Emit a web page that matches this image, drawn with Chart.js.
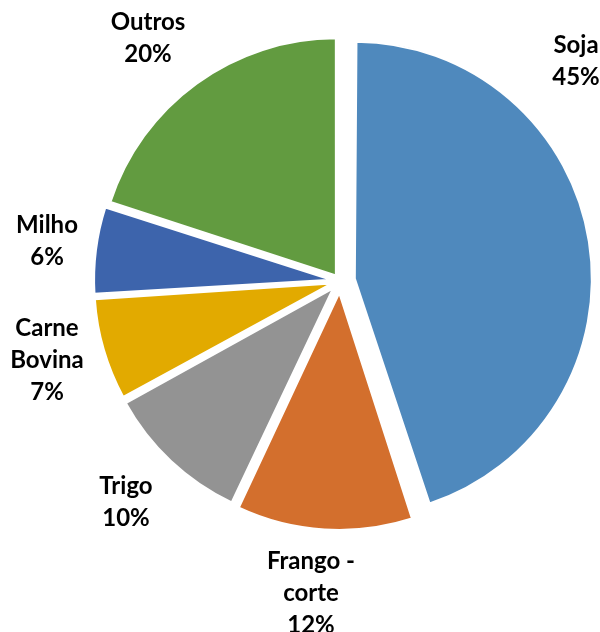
<!DOCTYPE html>
<html lang="pt">
<head>
    <meta charset="UTF-8">
    <title>Participação</title>
    <style>
        html, body { margin: 0; padding: 0; background: #fff; }
        #wrap { width: 600px; height: 632px; position: relative; }
    </style>
    <script src="https://cdn.jsdelivr.net/npm/chart.js"></script>
</head>
<body>
<div id="wrap">
    <canvas id="pieChart" width="600" height="632"></canvas>
</div>

<script>
    // dados do gráfico
    const categorias = ['Soja', ['Frango -', 'corte'], 'Trigo', ['Carne', 'Bovina'], 'Milho', 'Outros'];
    const valores = [45, 12, 10, 7, 6, 20];

    const cores = ['#4F89BD', '#D36F2D', '#939393', '#E2AA00', '#3D64AC', '#629B40'];
    // deslocamento de cada fatia (px)
    const explosao = [15, 12, 10, 9, 9, 7];
    // posição dos rótulos em relação ao centro da pizza
    const posRotulos = [[236, -220], [-29, 312], [-214, 221], [-293, 79], [-293, -40], [-192, -243]];

    const rotulosPlugin = {
        id: 'rotulos',
        afterDatasetsUpdate(chart) {
            // o Chart.js aumenta o raio das fatias deslocadas; compensa aqui
            const meta = chart.getDatasetMeta(0);
            meta.data.forEach((arc, i) => {
                const d = explosao[i];
                const circ = arc.endAngle - arc.startAngle;
                const fix = 1 - Math.sin(Math.min(Math.PI, circ));
                arc.outerRadius = arc.outerRadius - d * fix;
            });
        },
        afterDatasetsDraw(chart) {
            const ctx = chart.ctx;
            const meta = chart.getDatasetMeta(0);
            const total = valores.reduce((a, b) => a + b, 0);
            ctx.save();
            ctx.fillStyle = '#000';
            ctx.font = 'bold 24px Lato';
            ctx.textAlign = 'center';
            ctx.textBaseline = 'middle';
            meta.data.forEach((arc, i) => {
                const linhas = [].concat(categorias[i]);
                linhas.push(Math.round(valores[i] / total * 100) + '%');
                const cx = arc.x + posRotulos[i][0];
                const cy = arc.y + posRotulos[i][1];
                const lh = 32;
                const y0 = cy - (linhas.length - 1) * lh / 2;
                linhas.forEach((t, k) => ctx.fillText(t, cx, y0 + k * lh));
            });
            ctx.restore();
        }
    };

    new Chart(document.getElementById('pieChart'), {
        type: 'pie',
        data: {
            labels: categorias,
            datasets: [{
                data: valores,
                backgroundColor: cores,
                borderColor: '#ffffff',
                borderWidth: 2,
                offset: explosao.map(d => d * 4),
                hoverOffset: 0
            }]
        },
        options: {
            responsive: false,
            animation: false,
            radius: 237,
            layout: { padding: { left: 90, right: 10, top: 20, bottom: 90 } },
            plugins: {
                legend: { display: false },
                tooltip: { enabled: false }
            }
        },
        plugins: [rotulosPlugin]
    });
</script>
</body>
</html>
